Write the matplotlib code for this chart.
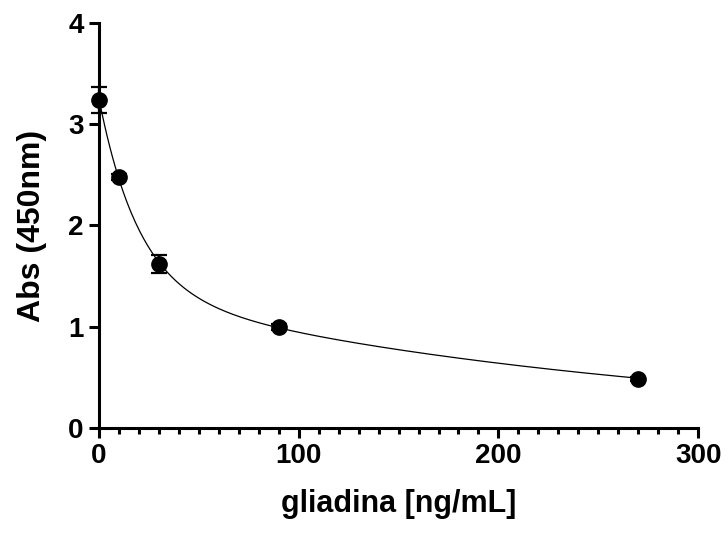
import numpy as np
import matplotlib.pyplot as plt

plt.rcParams['font.family'] = ['Liberation Sans', 'DejaVu Sans']
plt.rcParams['font.weight'] = 'bold'

# gliadin standard curve (mean +/- SD)
conc = np.array([0, 10, 30, 90, 270])
absorb = np.array([3.24, 2.48, 1.62, 1.00, 0.48])
sd = np.array([0.13, 0.03, 0.085, 0.03, 0.02])


def fit_two_phase(x, y):
    # y = a*exp(-k1 x) + b*exp(-k2 x), grid over the rates, least squares for a, b
    best = None
    for k1 in np.logspace(-2.5, 0, 120):
        for k2 in np.logspace(-4, -1.5, 120):
            A = np.column_stack([np.exp(-k1 * x), np.exp(-k2 * x)])
            coef, *_ = np.linalg.lstsq(A, y, rcond=None)
            if np.any(coef < 0):
                continue
            err = np.sum((A @ coef - y) ** 2)
            if best is None or err < best[0]:
                best = (err, k1, k2, coef)
    _, k1, k2, coef = best
    return lambda t: coef[0] * np.exp(-k1 * t) + coef[1] * np.exp(-k2 * t)


def main():
    model = fit_two_phase(conc, absorb)
    xs = np.linspace(conc.min(), conc.max(), 400)

    fig = plt.figure(figsize=(7.28, 5.33), dpi=100)
    ax = fig.add_axes([0.136, 0.197, 0.823, 0.760])

    ax.plot(xs, model(xs), color='black', lw=0.9, zorder=2)
    ax.errorbar(conc, absorb, yerr=sd, fmt='o', color='black', ms=11,
                elinewidth=1.6, capsize=6, capthick=1.6, zorder=3, clip_on=False)

    ax.set_xlim(0, 300)
    ax.set_ylim(0, 4)
    ax.set_xticks([0, 100, 200, 300])
    ax.set_xticks(np.arange(0, 301, 10), minor=True)
    ax.set_yticks([0, 1, 2, 3, 4])

    for side in ['top', 'right']:
        ax.spines[side].set_visible(False)
    for side in ['left', 'bottom']:
        ax.spines[side].set_linewidth(2.2)
    ax.tick_params(which='major', length=7, width=2.2, labelsize=20, pad=4)
    ax.tick_params(which='minor', length=4.5, width=2.2)
    ax.tick_params(axis='y', which='minor', left=False)

    ax.set_xlabel('gliadina [ng/mL]', fontsize=22, fontweight='bold', labelpad=14)
    ax.set_ylabel('Abs (450nm)', fontsize=23, fontweight='bold', labelpad=15)

    fig.savefig('out.png', dpi=100)


if __name__ == '__main__':
    main()
